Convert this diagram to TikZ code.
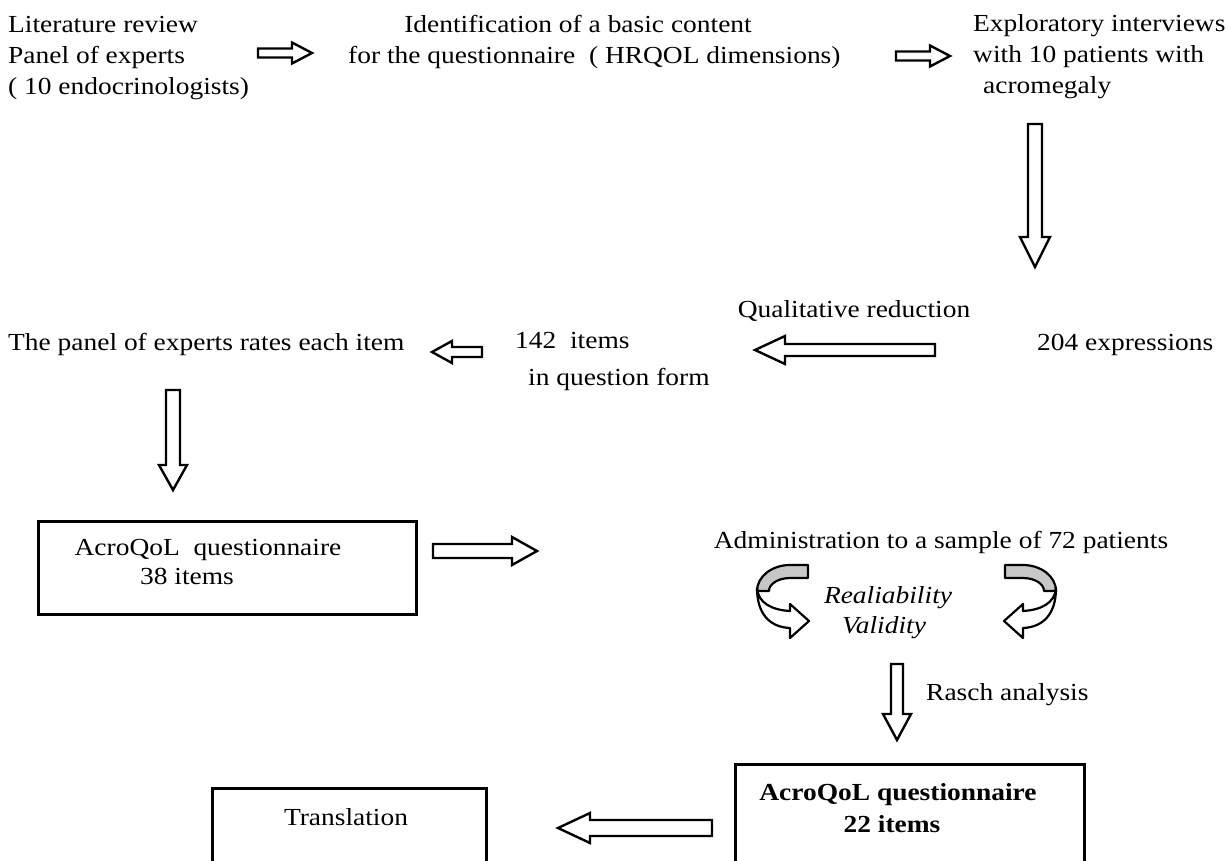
\documentclass[tikz,border=0pt]{standalone}
\usepackage{fontspec}
\setmainfont{Liberation Serif}[FakeStretch=1.12]
\begin{document}
\begin{tikzpicture}[x=1pt,y=-1pt,
  txt/.style={inner sep=0pt, font=\fontsize{24.5}{31}\selectfont},
  blk/.style={draw=black, line width=2.4pt, fill=white, line join=miter},
  box/.style={draw=black, line width=2.6pt, inner sep=0pt, anchor=north west},
  twist/.style={draw=black, line width=2.2pt, line join=round}]
\clip (0,0) rectangle (1231,860);
\fill[white] (0,0) rectangle (1231,860);
\newcommand{\hbarrow}[6]{% tail x, tip x, y, shaft half, head half, head length (signed)
  \draw[blk] (#1,{#3-#4}) -- ({#2-(#6)},{#3-#4}) -- ({#2-(#6)},{#3-#5}) -- (#2,#3)
    -- ({#2-(#6)},{#3+#5}) -- ({#2-(#6)},{#3+#4}) -- (#1,{#3+#4}) -- cycle;}
\newcommand{\vbarrow}[6]{% x, tail y, tip y, shaft half, head half, head length
  \draw[blk] ({#1-#4},#2) -- ({#1-#4},{#3-#6}) -- ({#1-#5},{#3-#6}) -- (#1,#3)
    -- ({#1+#5},{#3-#6}) -- ({#1+#4},{#3-#6}) -- ({#1+#4},#2) -- cycle;}
\newcommand{\twistarrow}{%
  \path[twist, fill=black!22] (808,565) -- (790,565) arc[start angle=270, end angle=180, x radius=33, y radius=26]
    -- (769,591) arc[start angle=180, end angle=270, x radius=21, y radius=13] -- (808,578) -- cycle;
  \path[twist, fill=white] (757,588) .. controls (758,603) and (772,610) .. (790,611) -- (790,604) -- (809,621)
    -- (790,638) -- (790,628) .. controls (768,627) and (757,612) .. (757,588) -- cycle;}

% Row 1 (base anchor of a multi-line node = last line)
\node[txt, anchor=base west, align=left] (lit) at (8,94)
  {Literature review\\Panel of experts\\( 10 endocrinologists)};
\node[txt, anchor=base] (ident1) at (578,32) {Identification of a basic content};
\node[txt, anchor=base west] (ident2) at (348,63) {for the questionnaire\ \ ( HRQOL dimensions)};
\node[txt, anchor=base west, align=left] (explo) at (973,93)
  {Exploratory interviews\\ with 10 patients with\\ \hspace{10pt}acromegaly};
\hbarrow{258}{312}{53}{4.5}{10.5}{20}
\hbarrow{896}{950}{56}{4.5}{10.5}{20}
\vbarrow{1035}{124}{267}{7}{15}{30}

% Row 2
\node[txt, anchor=base] (qual) at (854,317) {Qualitative reduction};
\node[txt, anchor=base west] (expr) at (1037,350) {204 expressions};
\node[txt, anchor=base west] (items1) at (515,348) {142\ \ items};
\node[txt, anchor=base west] (items2) at (528,385) {in question form};
\node[txt, anchor=base west] (panel) at (8,350) {The panel of experts rates each item};
\hbarrow{935}{755}{350}{6}{14}{-30}
\hbarrow{482}{432}{352}{5}{11}{-20}
\vbarrow{173}{390}{490}{7}{14}{25}

% Row 3
\node[box, minimum width=378pt, minimum height=93pt] (box1) at (37,520) {};
\node[txt, anchor=base] (acro1) at (208,555) {AcroQoL\ \ questionnaire};
\node[txt, anchor=base] (n38) at (187,584) {38 items};
\hbarrow{433}{537}{551}{7}{14}{25}
\node[txt, anchor=base] (admin) at (941,548) {Administration to a sample of 72 patients};

% twisted arrows
\twistarrow
\begin{scope}[shift={(1813,0)}, xscale=-1]
\twistarrow
\end{scope}
\node[txt, anchor=base, font=\fontsize{24.5}{24}\selectfont\itshape] (real) at (888,603) {Realiability};
\node[txt, anchor=base, font=\fontsize{24.5}{24}\selectfont\itshape] (valid) at (884,633) {Validity};

\vbarrow{897}{664}{740}{6}{14}{26}
\node[txt, anchor=base west] (rasch) at (926,700) {Rasch analysis};

% Row 4
\node[box, line width=3.4pt, minimum width=349pt, minimum height=130pt] (box2) at (734,763) {};
\node[txt, anchor=base, font=\fontsize{24.5}{24}\selectfont\bfseries] (acro2) at (898,800) {AcroQoL questionnaire};
\node[txt, anchor=base, font=\fontsize{24.5}{24}\selectfont\bfseries] (n22) at (892,832) {22 items};
\node[box, minimum width=274pt, minimum height=110pt] (box3) at (211,787) {};
\node[txt, anchor=base] (trans) at (346,825) {Translation};
\hbarrow{712}{558}{828}{8}{15}{-32}
\end{tikzpicture}
\end{document}
